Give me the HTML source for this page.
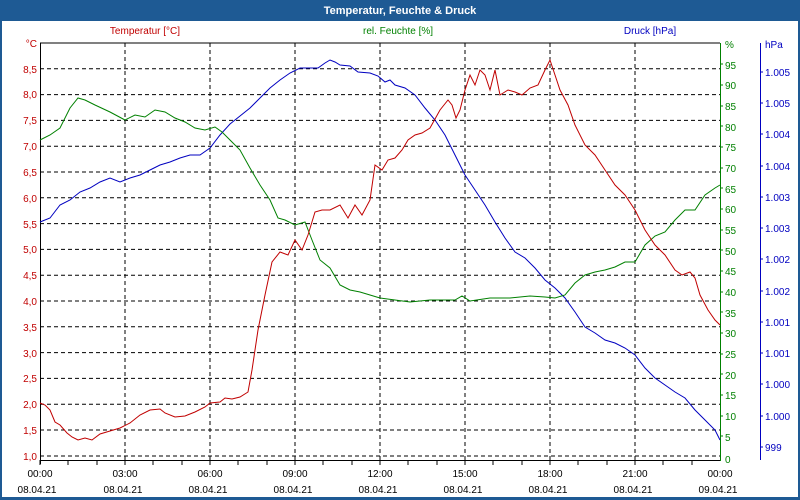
<!DOCTYPE html>
<html><head><meta charset="utf-8"><style>
html,body{margin:0;padding:0;width:800px;height:500px;overflow:hidden;background:#fff}
svg{display:block;font-family:"Liberation Sans",sans-serif}
</style></head><body>
<svg width="800" height="500" xmlns="http://www.w3.org/2000/svg">
<rect x="0" y="0" width="800" height="500" fill="#1e5a94"/>
<rect x="2" y="21" width="796" height="476" fill="#fff"/>
<text x="400" y="14" fill="#fff" font-size="11" font-weight="bold" text-anchor="middle">Temperatur, Feuchte &amp; Druck</text>
<text x="145" y="34" fill="#c00000" font-size="10" text-anchor="middle">Temperatur [°C]</text>
<text x="398" y="34" fill="#008000" font-size="10" text-anchor="middle">rel. Feuchte [%]</text>
<text x="650" y="34" fill="#0000c0" font-size="10" text-anchor="middle">Druck [hPa]</text>
<g stroke="#000" stroke-dasharray="4,3" stroke-width="1">
<line x1="40" y1="68.8" x2="720" y2="68.8"/><line x1="40" y1="94.6" x2="720" y2="94.6"/><line x1="40" y1="120.4" x2="720" y2="120.4"/><line x1="40" y1="146.2" x2="720" y2="146.2"/><line x1="40" y1="172" x2="720" y2="172"/><line x1="40" y1="197.8" x2="720" y2="197.8"/><line x1="40" y1="223.6" x2="720" y2="223.6"/><line x1="40" y1="249.4" x2="720" y2="249.4"/><line x1="40" y1="275.2" x2="720" y2="275.2"/><line x1="40" y1="301" x2="720" y2="301"/><line x1="40" y1="326.8" x2="720" y2="326.8"/><line x1="40" y1="352.6" x2="720" y2="352.6"/><line x1="40" y1="378.4" x2="720" y2="378.4"/><line x1="40" y1="404.2" x2="720" y2="404.2"/><line x1="40" y1="430" x2="720" y2="430"/><line x1="40" y1="456" x2="720" y2="456"/>
<line x1="125" y1="43" x2="125" y2="460"/><line x1="210" y1="43" x2="210" y2="460"/><line x1="295" y1="43" x2="295" y2="460"/><line x1="380" y1="43" x2="380" y2="460"/><line x1="465" y1="43" x2="465" y2="460"/><line x1="550" y1="43" x2="550" y2="460"/><line x1="635" y1="43" x2="635" y2="460"/>
</g>
<line x1="40" y1="43" x2="720" y2="43" stroke="#000"/>
<line x1="40.5" y1="43" x2="40.5" y2="464" stroke="#000"/>
<line x1="40" y1="460.5" x2="720" y2="460.5" stroke="#000"/>
<line x1="720.5" y1="43" x2="720.5" y2="461" stroke="#008000"/>
<line x1="760.5" y1="43" x2="760.5" y2="460" stroke="#0000c0"/>
<g stroke="#000">
<line x1="40" y1="460" x2="40" y2="465"/><line x1="68" y1="460" x2="68" y2="465"/><line x1="97" y1="460" x2="97" y2="465"/><line x1="125" y1="460" x2="125" y2="465"/><line x1="153" y1="460" x2="153" y2="465"/><line x1="182" y1="460" x2="182" y2="465"/><line x1="210" y1="460" x2="210" y2="465"/><line x1="238" y1="460" x2="238" y2="465"/><line x1="267" y1="460" x2="267" y2="465"/><line x1="295" y1="460" x2="295" y2="465"/><line x1="323" y1="460" x2="323" y2="465"/><line x1="352" y1="460" x2="352" y2="465"/><line x1="380" y1="460" x2="380" y2="465"/><line x1="408" y1="460" x2="408" y2="465"/><line x1="437" y1="460" x2="437" y2="465"/><line x1="465" y1="460" x2="465" y2="465"/><line x1="493" y1="460" x2="493" y2="465"/><line x1="522" y1="460" x2="522" y2="465"/><line x1="550" y1="460" x2="550" y2="465"/><line x1="578" y1="460" x2="578" y2="465"/><line x1="607" y1="460" x2="607" y2="465"/><line x1="635" y1="460" x2="635" y2="465"/><line x1="663" y1="460" x2="663" y2="465"/><line x1="692" y1="460" x2="692" y2="465"/>
</g>
<g fill="#c00000" font-size="10" text-anchor="end">
<text x="37" y="47">°C</text><text x="37" y="73">8,5</text><text x="37" y="98">8,0</text><text x="37" y="124">7,5</text><text x="37" y="150">7,0</text><text x="37" y="176">6,5</text><text x="37" y="202">6,0</text><text x="37" y="228">5,5</text><text x="37" y="253">5,0</text><text x="37" y="279">4,5</text><text x="37" y="305">4,0</text><text x="37" y="331">3,5</text><text x="37" y="357">3,0</text><text x="37" y="382">2,5</text><text x="37" y="408">2,0</text><text x="37" y="434">1,5</text><text x="37" y="460">1,0</text>
</g>
<g fill="#008000" font-size="10">
<text x="725" y="48">%</text><text x="725" y="69">95</text><text x="725" y="89">90</text><text x="725" y="110">85</text><text x="725" y="131">80</text><text x="725" y="151">75</text><text x="725" y="172">70</text><text x="725" y="193">65</text><text x="725" y="213">60</text><text x="725" y="234">55</text><text x="725" y="255">50</text><text x="725" y="275">45</text><text x="725" y="296">40</text><text x="725" y="317">35</text><text x="725" y="337">30</text><text x="725" y="358">25</text><text x="725" y="379">20</text><text x="725" y="399">15</text><text x="725" y="420">10</text><text x="725" y="441">5</text><text x="725" y="463">0</text>
</g>
<g stroke="#008000"><line x1="720" y1="64" x2="723" y2="64"/><line x1="720" y1="85" x2="723" y2="85"/><line x1="720" y1="106" x2="723" y2="106"/><line x1="720" y1="126" x2="723" y2="126"/><line x1="720" y1="147" x2="723" y2="147"/><line x1="720" y1="168" x2="723" y2="168"/><line x1="720" y1="188" x2="723" y2="188"/><line x1="720" y1="209" x2="723" y2="209"/><line x1="720" y1="230" x2="723" y2="230"/><line x1="720" y1="250" x2="723" y2="250"/><line x1="720" y1="271" x2="723" y2="271"/><line x1="720" y1="292" x2="723" y2="292"/><line x1="720" y1="312" x2="723" y2="312"/><line x1="720" y1="333" x2="723" y2="333"/><line x1="720" y1="354" x2="723" y2="354"/><line x1="720" y1="374" x2="723" y2="374"/><line x1="720" y1="395" x2="723" y2="395"/><line x1="720" y1="416" x2="723" y2="416"/><line x1="720" y1="436" x2="723" y2="436"/></g>
<g fill="#0000c0" font-size="10">
<text x="765" y="48">hPa</text><text x="765" y="76">1.005</text><text x="765" y="107">1.005</text><text x="765" y="138">1.004</text><text x="765" y="170">1.004</text><text x="765" y="201">1.003</text><text x="765" y="232">1.003</text><text x="765" y="263">1.002</text><text x="765" y="295">1.002</text><text x="765" y="326">1.001</text><text x="765" y="357">1.001</text><text x="765" y="388">1.000</text><text x="765" y="420">1.000</text><text x="765" y="451">999</text>
</g>
<g stroke="#0000c0"><line x1="760" y1="72" x2="763" y2="72"/><line x1="760" y1="103" x2="763" y2="103"/><line x1="760" y1="134" x2="763" y2="134"/><line x1="760" y1="166" x2="763" y2="166"/><line x1="760" y1="197" x2="763" y2="197"/><line x1="760" y1="228" x2="763" y2="228"/><line x1="760" y1="259" x2="763" y2="259"/><line x1="760" y1="291" x2="763" y2="291"/><line x1="760" y1="322" x2="763" y2="322"/><line x1="760" y1="353" x2="763" y2="353"/><line x1="760" y1="384" x2="763" y2="384"/><line x1="760" y1="416" x2="763" y2="416"/><line x1="760" y1="447" x2="763" y2="447"/></g>
<g fill="#000" font-size="10" text-anchor="middle">
<text x="40" y="477">00:00</text><text x="125" y="477">03:00</text><text x="210" y="477">06:00</text><text x="295" y="477">09:00</text><text x="380" y="477">12:00</text><text x="465" y="477">15:00</text><text x="550" y="477">18:00</text><text x="635" y="477">21:00</text><text x="720" y="477">00:00</text>
<text x="37" y="493">08.04.21</text><text x="123" y="493">08.04.21</text><text x="208" y="493">08.04.21</text><text x="293" y="493">08.04.21</text><text x="378" y="493">08.04.21</text><text x="463" y="493">08.04.21</text><text x="548" y="493">08.04.21</text><text x="633" y="493">08.04.21</text><text x="718" y="493">09.04.21</text>
</g>
<polyline fill="none" stroke="#0000c0" points="40,222 50,218 60,205 70,200 80,192 90,188 100,182 110,178 120,182 130,178 140,175 150,170 160,165 170,162 180,158 190,155 200,155 210,148 220,135 230,124 240,116 250,108 260,98 270,88 280,80 290,73 300,68 310,68 318,68 325,63 330,60 335,62 340,65 350,66 358,72 370,73 378,76 385,82 390,80 395,85 405,88 415,95 425,108 435,120 445,135 455,155 465,175 475,190 485,205 495,222 505,238 515,252 525,258 535,268 545,280 555,288 565,298 575,312 585,327 595,333 605,340 615,343 625,348 635,355 645,368 655,378 665,385 675,392 685,398 695,410 705,420 715,430 720,440"/>
<polyline fill="none" stroke="#008000" points="40,140 50,135 60,128 70,108 78,98 85,100 95,105 110,112 125,120 135,115 145,117 155,110 165,112 175,118 185,122 195,128 205,130 215,127 222,132 232,142 240,150 250,168 260,185 270,200 278,218 285,220 295,225 305,222 312,240 320,260 330,268 340,285 350,290 360,292 370,295 380,298 395,300 410,302 430,300 445,300 455,300 462,296 470,301 490,298 510,298 530,296 545,297 555,298 565,295 575,283 585,275 595,272 605,270 615,267 625,262 635,262 645,245 655,236 665,232 675,220 685,210 695,210 705,195 715,188 720,185"/>
<polyline fill="none" stroke="#c00000" points="40,403 45,405 50,410 55,422 60,425 67,433 72,437 78,440 85,438 92,440 100,434 110,431 120,428 130,423 140,415 150,410 160,409 165,413 175,417 185,416 195,412 205,407 210,403 220,402 225,398 232,399 240,397 248,392 252,370 258,330 265,295 272,262 280,252 288,255 295,240 302,250 308,235 315,212 322,210 330,210 340,205 348,218 355,205 362,215 370,200 375,165 382,170 388,160 395,158 402,150 408,140 415,135 422,133 430,128 440,110 448,100 452,105 456,118 460,110 465,90 470,75 475,85 480,70 485,75 490,90 495,70 500,95 508,90 515,92 522,95 530,88 538,85 545,70 550,60 555,75 560,90 568,105 575,125 585,145 595,155 605,170 615,185 625,195 635,210 645,230 655,245 665,255 675,270 682,275 690,272 695,278 700,295 708,310 715,320 720,325"/>
</svg>
</body></html>
